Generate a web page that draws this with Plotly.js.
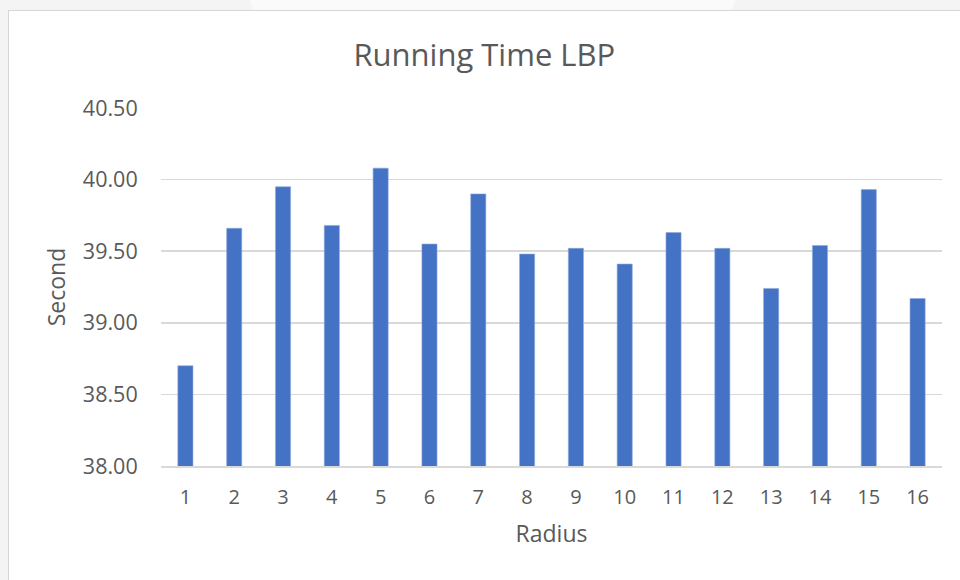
<!DOCTYPE html>
<html>
<head>
<meta charset="utf-8">
<script src="https://cdn.plot.ly/plotly-3.0.1.min.js"></script>
<style>
  html, body { margin: 0; padding: 0; width: 960px; height: 580px; overflow: hidden; background: #f4f4f4; }
  #tab { position: absolute; left: 250px; top: 0; width: 485px; height: 12px; background: #fafafa; border-radius: 0 0 14px 14px; }
  #frame { position: absolute; left: 8px; top: 10px; width: 1000px; height: 620px; background: #ffffff; border-left: 1.5px solid #d6d6d6; border-top: 1.5px solid #d6d6d6; }
  #chart { position: absolute; left: 0; top: 0; width: 960px; height: 580px; }
</style>
</head>
<body>
<div id="tab"></div>
<div id="frame"></div>
<div id="chart"></div>
<script>
const radius = ['1','2','3','4','5','6','7','8','9','10','11','12','13','14','15','16'];
const seconds = [38.70, 39.66, 39.95, 39.68, 40.08, 39.55, 39.90, 39.48, 39.52, 39.41, 39.63, 39.52, 39.24, 39.54, 39.93, 39.17];
const yTicks = [38.0, 38.5, 39.0, 39.5, 40.0, 40.5];
const yTickText = ['38.00', '38.50', '39.00', '39.50', '40.00', '40.50'];

const grey = '#595959';
const fontFam = '"Open Sans", "Noto Sans", sans-serif';

Plotly.newPlot('chart', [{
  type: 'bar',
  x: radius,
  y: seconds,
  marker: { color: '#4472C4', line: { color: '#8fa9dc', width: 0.6 } },
  hoverinfo: 'x+y'
}], {
  width: 960, height: 580,
  paper_bgcolor: 'rgba(0,0,0,0)',
  plot_bgcolor: 'rgba(0,0,0,0)',
  margin: { l: 160.5, r: 18, t: 108, b: 114 },
  bargap: 0.69,
  showlegend: false,
  title: {
    text: 'Running Time LBP',
    font: { family: fontFam, size: 31, color: grey },
    xref: 'container', x: 0.5045, xanchor: 'center',
    yref: 'container', y: 1 - 55/580, yanchor: 'middle'
  },
  xaxis: {
    type: 'category',
    tickfont: { family: fontFam, size: 20, color: grey },
    ticks: 'outside', ticklen: 12, tickcolor: 'rgba(0,0,0,0)',
    showgrid: false, zeroline: false,
    showline: true, linecolor: '#d9d9d9', linewidth: 1.5,
    title: { text: 'Radius', font: { family: fontFam, size: 23, color: grey }, standoff: 17 },
    automargin: false
  },
  yaxis: {
    range: [38, 40.5],
    tickvals: yTicks, ticktext: yTickText,
    tickfont: { family: fontFam, size: 21.5, color: grey },
    ticks: 'outside', ticklen: 18, tickcolor: 'rgba(0,0,0,0)',
    showgrid: true, gridcolor: '#d9d9d9', gridwidth: 1.5,
    zeroline: false, showline: false,
    title: { text: 'Second', font: { family: fontFam, size: 23, color: grey }, standoff: 10 },
    automargin: false
  }
}, { displayModeBar: false, staticPlot: true });
</script>
</body>
</html>
